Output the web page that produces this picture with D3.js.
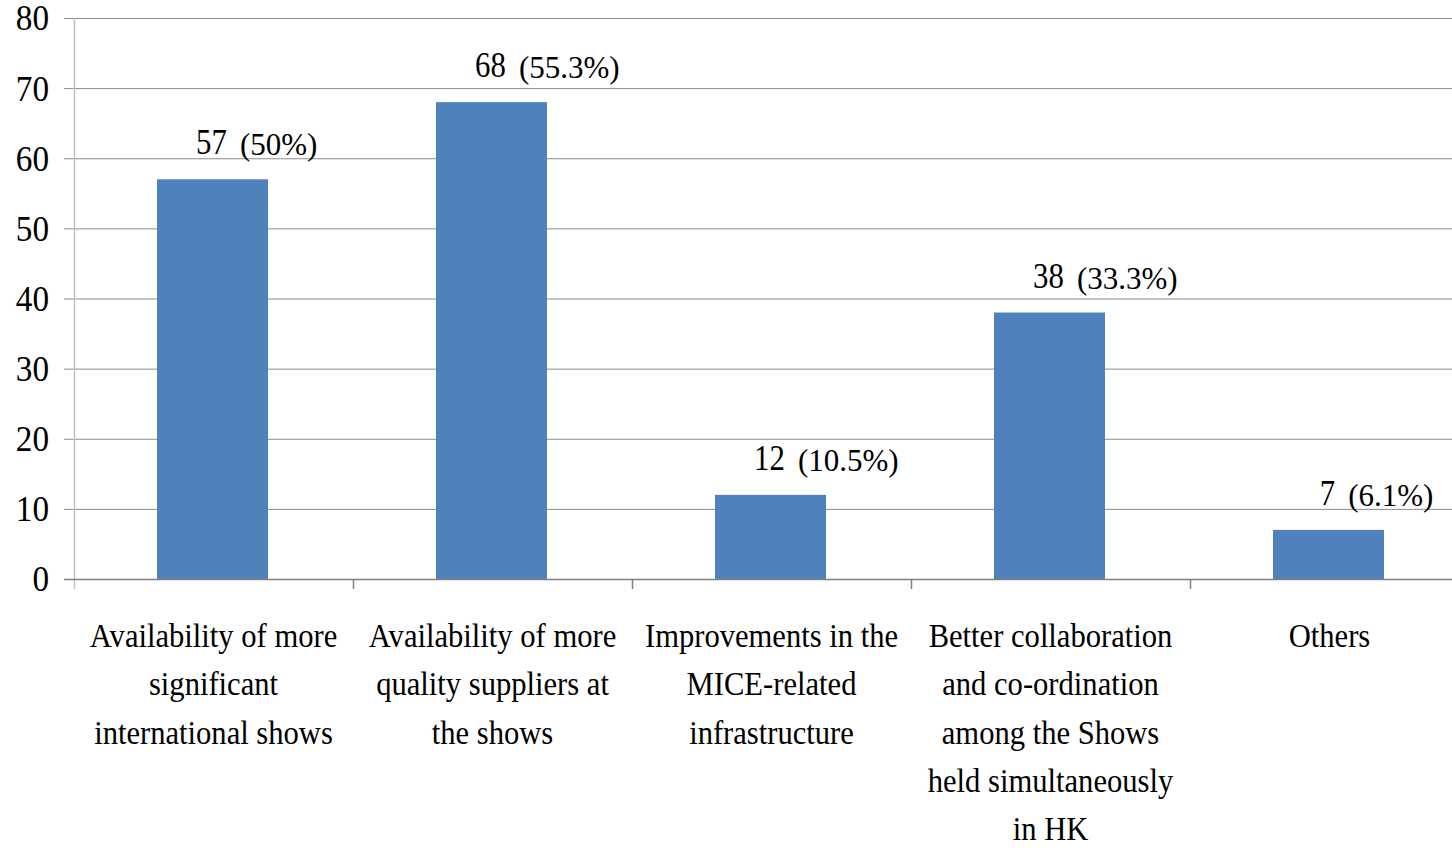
<!DOCTYPE html>
<html><head><meta charset="utf-8">
<script src="https://cdnjs.cloudflare.com/ajax/libs/d3/7.8.5/d3.min.js"></script>
<style>body{margin:0;background:#fff;overflow:hidden}svg{display:block}</style>
</head><body>
<script>
const categories = [
  ["Availability of more", "significant", "international shows"],
  ["Availability of more", "quality suppliers at", "the shows"],
  ["Improvements in the", "MICE-related", "infrastructure"],
  ["Better collaboration", "and co-ordination", "among the Shows", "held simultaneously", "in HK"],
  ["Others"]
];
const values = [57, 68, 12, 38, 7];
const percents = ["(50%)", "(55.3%)", "(10.5%)", "(33.3%)", "(6.1%)"];
const yTicks = [0, 10, 20, 30, 40, 50, 60, 70, 80];

const W = 1452, H = 848;
const svg = d3.select("body").append("svg").attr("width", W).attr("height", H);
const x = d3.scaleBand().domain(d3.range(values.length)).range([74, 1469]).paddingInner(0).paddingOuter(0);
const y = d3.scaleLinear().domain([0, 80]).range([579, 18]);
const serif = "'Liberation Serif', 'DejaVu Serif', serif";

// gridlines
svg.append("g").selectAll("line").data(yTicks.filter(d => d > 0)).join("line")
  .attr("x1", 64).attr("x2", W).attr("y1", d => y(d) + 0.5).attr("y2", d => y(d) + 0.5)
  .attr("stroke", "#8c8c8c").attr("stroke-width", 1);

// y axis line
svg.append("line").attr("x1", 74.5).attr("x2", 74.5).attr("y1", y(80)).attr("y2", 589)
  .attr("stroke", "#bfbfbf").attr("stroke-width", 1.5);

// bars
const bw = 111;
svg.append("g").selectAll("rect").data(values).join("rect")
  .attr("x", (d, i) => x(i) + x.bandwidth() / 2 - bw / 2 - 1)
  .attr("width", bw)
  .attr("y", d => y(d))
  .attr("height", d => y(0) - y(d))
  .attr("fill", "#4f81bd");

// baseline
svg.append("line").attr("x1", 64).attr("x2", W).attr("y1", y(0) + 0.5).attr("y2", y(0) + 0.5)
  .attr("stroke", "#808080").attr("stroke-width", 1.5);
// category tick marks
svg.append("g").selectAll("line").data(d3.range(1, values.length)).join("line")
  .attr("x1", i => x(i) + 0.5).attr("x2", i => x(i) + 0.5)
  .attr("y1", y(0)).attr("y2", 589)
  .attr("stroke", "#808080").attr("stroke-width", 1.5);

// y tick labels
const yAxis = d3.axisLeft(y).tickValues(yTicks).tickSize(0).tickPadding(0);
const yg = svg.append("g").attr("transform", "translate(49,0)").call(yAxis);
yg.select(".domain").remove();
yg.selectAll("text").attr("font-family", serif).attr("font-size", 35).attr("fill", "#000")
  .attr("transform", "scale(0.95,1)").attr("dy", "0.34em");

// value labels
const vl = svg.append("g");
values.forEach((v, i) => {
  const cx = x(i) + x.bandwidth() / 2 - 2;
  const g = vl.append("g").attr("transform", `translate(${cx},${y(v) - 25})`);
  g.append("text").attr("text-anchor", "middle").attr("font-family", serif)
    .attr("font-size", 35).attr("transform", "scale(0.88,1)").text(v);
  g.append("text").attr("x", 13 + (String(v).length * 35 * 0.5 * 0.88) / 2)
    .attr("y", 1).attr("font-family", serif).attr("font-size", 31).text(percents[i]);
});

// category labels
const cl = svg.append("g");
categories.forEach((lines, i) => {
  const cx = x(i) + x.bandwidth() / 2;
  const t = cl.append("text").attr("font-family", serif).attr("font-size", 34)
    .attr("text-anchor", "middle")
    .attr("transform", `translate(${cx},647) scale(0.9,1)`);
  lines.forEach((l, j) => t.append("tspan").attr("x", 0).attr("y", j * 48.3).text(l));
});
</script>
</body></html>
